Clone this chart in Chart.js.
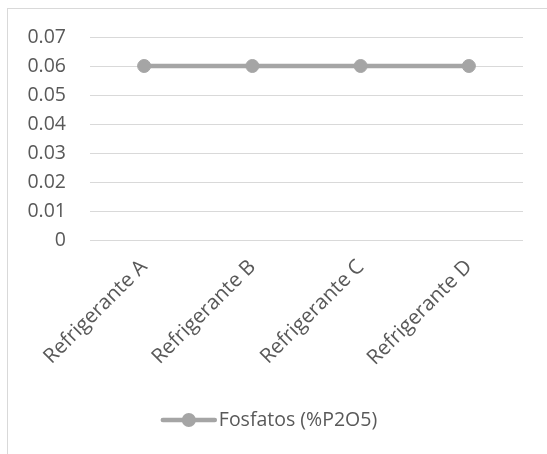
<!DOCTYPE html>
<html>
<head>
<meta charset="utf-8">
<script src="https://cdn.jsdelivr.net/npm/chart.js@4"></script>
<style>
  html, body { margin: 0; padding: 0; background: #fff; }
  body { width: 547px; height: 454px; position: relative; overflow: hidden; }
  #frame { position: absolute; left: 7px; top: 8px; width: 600px; height: 500px;
           border-left: 1px solid #d9d9d9; border-top: 1px solid #d9d9d9; }
  #wrap { position: absolute; left: 0; top: 0; width: 547px; height: 454px; }
</style>
</head>
<body>
<div id="frame"></div>
<div id="wrap"><canvas id="lineChart"></canvas></div>
<script>
const categories = ['Refrigerante A', 'Refrigerante B', 'Refrigerante C', 'Refrigerante D'];
const fosfatos = [0.06, 0.06, 0.06, 0.06];
const yTickLabels = ['0', '0.01', '0.02', '0.03', '0.04', '0.05', '0.06', '0.07'];
const seriesName = 'Fosfatos (%P2O5)';

const textColor = '#595959';
const lineColor = '#a5a5a5';
const font = { family: "'Open Sans', sans-serif", size: 19.5 };
const catFont = { family: "'Open Sans', sans-serif", size: 20.5 };

// legend: thick line with a dot in the middle, then the series name
const lineLegend = {
  id: 'lineLegend',
  afterDraw(chart) {
    const ctx = chart.ctx;
    ctx.save();
    ctx.font = `${font.size}px ${font.family}`;
    const textW = ctx.measureText(seriesName).width;
    const swatch = 52, gap = 4;
    const total = swatch + gap + textW;
    const x0 = 270 - total / 2;
    const y = 420;
    ctx.strokeStyle = lineColor;
    ctx.lineWidth = 4.5;
    ctx.lineCap = 'round';
    ctx.beginPath();
    ctx.moveTo(x0, y);
    ctx.lineTo(x0 + swatch, y);
    ctx.stroke();
    ctx.fillStyle = lineColor;
    ctx.beginPath();
    ctx.arc(x0 + swatch / 2, y, 7, 0, Math.PI * 2);
    ctx.fill();
    ctx.fillStyle = textColor;
    ctx.textBaseline = 'middle';
    ctx.fillText(seriesName, x0 + swatch + gap, y);
    ctx.restore();
  }
};

new Chart(document.getElementById('lineChart'), {
  type: 'line',
  data: {
    labels: categories,
    datasets: [{
      label: seriesName,
      data: fosfatos,
      borderColor: lineColor,
      backgroundColor: lineColor,
      borderWidth: 4.5,
      pointRadius: 6.5,
      pointBorderWidth: 1,
      pointBackgroundColor: lineColor,
      pointBorderColor: lineColor,
      tension: 0
    }]
  },
  options: {
    responsive: true,
    maintainAspectRatio: false,
    animation: false,
    layout: { padding: { top: 37, right: 24, left: 0, bottom: 64 } },
    plugins: {
      legend: { display: false },
      tooltip: { enabled: false }
    },
    scales: {
      x: {
        offset: true,
        grid: { display: false, drawTicks: false },
        border: { display: false },
        ticks: { color: textColor, font: catFont, minRotation: 45, maxRotation: 45, padding: 15, autoSkip: false },
        afterFit(scale) { scale.height = 150; }
      },
      y: {
        min: 0,
        max: 0.07,
        grid: { color: '#d9d9d9', lineWidth: 1, drawTicks: false },
        border: { display: false },
        ticks: {
          stepSize: 0.01,
          color: textColor,
          font: font,
          padding: 24,
          callback: (v, i) => yTickLabels[i]
        },
        afterFit(scale) { scale.width = 90; }
      }
    }
  },
  plugins: [lineLegend]
});
</script>
</body>
</html>
